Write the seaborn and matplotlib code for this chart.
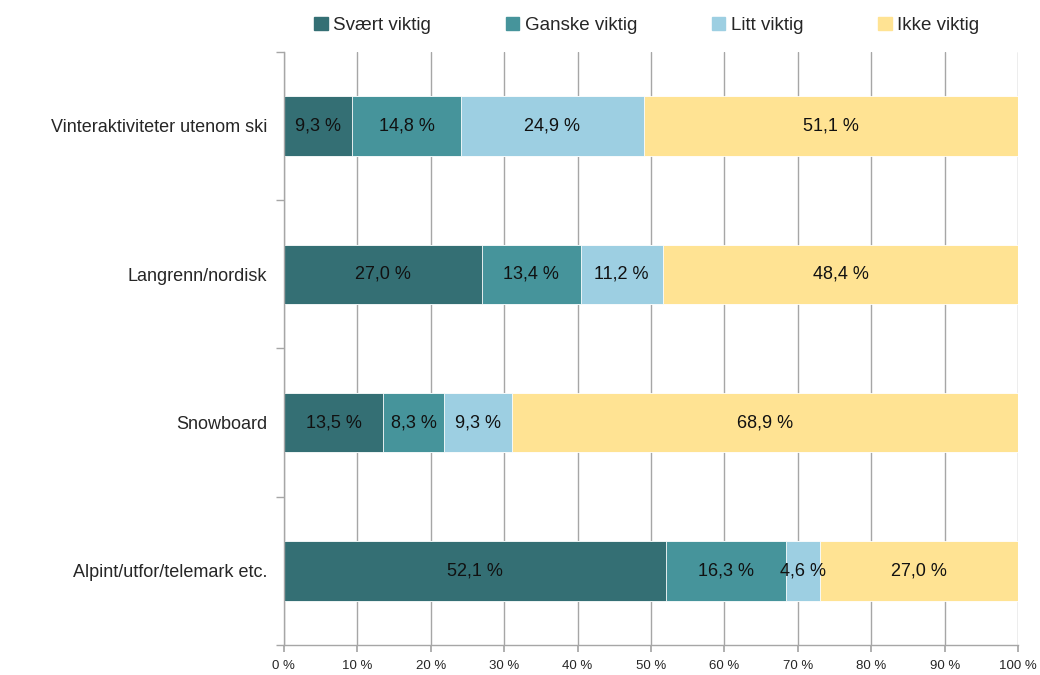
import matplotlib
matplotlib.use("Agg")
import matplotlib.pyplot as plt
import seaborn as sns
import pandas as pd
import numpy as np
from matplotlib.patches import Patch
from matplotlib.ticker import FixedLocator

categories = ["Vinteraktiviteter utenom ski", "Langrenn/nordisk", "Snowboard", "Alpint/utfor/telemark etc."]
series_names = ["Svært viktig", "Ganske viktig", "Litt viktig", "Ikke viktig"]
svaert = [9.3, 27.0, 13.5, 52.1]
ganske = [14.8, 13.4, 8.3, 16.3]
litt = [24.9, 11.2, 9.3, 4.6]
ikke = [51.1, 48.4, 68.9, 27.0]
colors = ["#346F74", "#46949B", "#9DCFE2", "#FFE393"]
xtick_labels = [f"{v} %" for v in range(0, 101, 10)]

sns.set_theme(style="white")
plt.rcParams['font.family'] = ['Liberation Sans', 'DejaVu Sans']

values = [svaert, ganske, litt, ikke]
df = pd.DataFrame({"cat": categories})
cum = np.zeros(len(categories))
for name, v in zip(series_names, values):
    cum = cum + np.array(v)
    df[name] = cum.copy()

fig = plt.figure(figsize=(10.4, 6.75), dpi=100)
ax = fig.add_axes([0.273, 0.0444, 0.706, 0.879])

# draw from largest cumulative to smallest so each layer covers the previous
for i in range(len(series_names) - 1, -1, -1):
    sns.barplot(data=df, x=series_names[i], y="cat", color=colors[i], orient="h",
                width=0.4, ax=ax, saturation=1, edgecolor="white", linewidth=0.6,
                order=categories)

# labels
for j in range(len(categories)):
    start = 0.0
    for i, v in enumerate(values):
        val = v[j]
        ax.text(start + val / 2, j, f"{val:.1f} %".replace(".", ","), ha="center", va="center",
                fontsize=13, color="#111111")
        start += val

ax.set_xlim(0, 100)
ax.set_ylim(3.5, -0.5)
ax.set_xlabel("")
ax.set_ylabel("")
ax.xaxis.set_major_locator(FixedLocator(list(range(0, 101, 10))))
ax.set_xticklabels(xtick_labels, fontsize=9.5)
ax.grid(axis="x", color="#A6A6A6", linewidth=1)
ax.set_axisbelow(True)
ax.tick_params(axis="x", length=5, color="#A6A6A6", direction="out", bottom=True, pad=6)
ax.tick_params(axis="y", which="major", length=0, labelsize=13, pad=12)
ax.yaxis.set_minor_locator(FixedLocator([-0.5, 0.5, 1.5, 2.5, 3.5]))
ax.tick_params(axis="y", which="minor", length=6, color="#A6A6A6", left=True)
for s in ["top", "right"]:
    ax.spines[s].set_visible(False)
for s in ["left", "bottom"]:
    ax.spines[s].set_color("#A6A6A6")
    ax.spines[s].set_linewidth(1)

handles = [Patch(facecolor=c, edgecolor=c, label=n) for c, n in zip(colors, series_names)]
fig.legend(handles=handles, loc="upper center", bbox_to_anchor=(0.622, 1.0), ncol=4, frameon=False,
           fontsize=13.5, handlelength=0.7, handleheight=0.7, handletextpad=0.3, columnspacing=4.0)

fig.savefig("out.png", dpi=100)
